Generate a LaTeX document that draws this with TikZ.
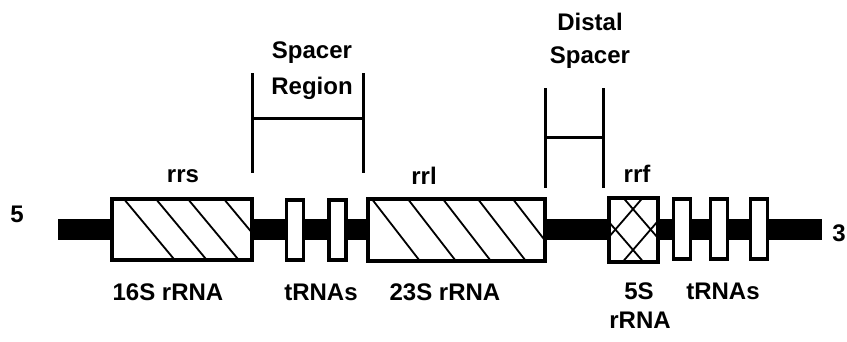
\documentclass[tikz,border=0pt]{standalone}
\usepackage{fontspec}
\setmainfont{Liberation Sans}
\begin{document}
\begin{tikzpicture}[x=1pt,y=-1pt,
  gene/.style={draw=black,line width=4pt,fill=white,inner sep=0pt,outer sep=0pt,rectangle},
  trna/.style={gene,line width=3.5pt,minimum width=17pt,minimum height=60pt},
  lbl/.style={font=\bfseries\fontsize{24}{26}\selectfont,inner sep=0pt,align=center},
  hatch/.style={line width=1.8pt},
  brk/.style={line width=3pt}]
\useasboundingbox (0,0) rectangle (847,341);
% backbone
\coordinate (L) at (58,229);
\coordinate (R) at (822,229);
\draw[line width=21pt] (L) -- (R);
% genes
\node[gene,minimum width=140pt,minimum height=61pt] (b16) at (181.5,229) {};
\node[trna] (t1) at (295,230) {};
\node[trna] (t2) at (337.5,230) {};
\node[gene,minimum width=177pt,minimum height=62pt] (b23) at (456,229.5) {};
\node[gene,minimum width=49pt,minimum height=64pt] (b5) at (633,229.5) {};
\node[trna] (t3) at (682,229) {};
\node[trna] (t4) at (719,229) {};
\node[trna] (t5) at (759,229) {};
% hatching 16S
\begin{scope}
\clip (b16.south west) rectangle (b16.north east);
\foreach \o in {12,44,76,112}
  \draw[hatch] ([xshift=\o pt]b16.north west) -- ++(50,60);
\end{scope}
% hatching 23S
\begin{scope}
\clip (b23.south west) rectangle (b23.north east);
\foreach \o in {4,40,75,110,145}
  \draw[hatch] ([xshift=\o pt]b23.north west) -- ++(48,62);
\end{scope}
% crosshatch 5S
\begin{scope}
\clip (b5.south west) rectangle (b5.north east);
\draw[hatch] (602,214) -- (646,265);
\draw[hatch] (620,194) -- (664,245);
\draw[hatch] (646,194) -- (602,245);
\draw[hatch] (664,214) -- (620,265);
\end{scope}
% re-draw borders on top
\draw[line width=4pt] (b16.south west) rectangle (b16.north east);
\draw[line width=4pt] (b23.south west) rectangle (b23.north east);
\draw[line width=4pt] (b5.south west) rectangle (b5.north east);
% end labels
\node[lbl] (p5) at (17,214) {5};
\node[lbl] (p3) at (839,233) {3};
% gene names above
\node[lbl] (rrs) at (183,176) {rrs};
\node[lbl] (rrl) at (424,176) {rrl};
\node[lbl] (rrf) at (637,174) {rrf};
% labels below
\node[lbl] (l16) at (168,292) {16S rRNA};
\node[lbl] (lt1) at (321,292) {tRNAs};
\node[lbl] (l23) at (445,292) {23S rRNA};
\node[lbl] (l5) at (639,291) {5S};
\node[lbl] (l5b) at (640,320) {rRNA};
\node[lbl] (lt2) at (723,291) {tRNAs};
% spacer region bracket
\coordinate (s1a) at (252,73);
\coordinate (s1b) at (252,173);
\coordinate (s2a) at (363,73);
\coordinate (s2b) at (363,173);
\draw[brk] (s1a) -- (s1b);
\draw[brk] (s2a) -- (s2b);
\draw[brk] (s1a |- 0,118) -- (s2a |- 0,118);
\node[lbl] (sp1) at (312,53) {Spacer};
\node[lbl] (sp2) at (312,88) {Region};
% distal spacer bracket
\coordinate (d1a) at (545,88);
\coordinate (d1b) at (545,188);
\coordinate (d2a) at (603,88);
\coordinate (d2b) at (603,188);
\draw[brk] (d1a) -- (d1b);
\draw[brk] (d2a) -- (d2b);
\draw[brk] (d1a |- 0,137) -- (d2a |- 0,137);
\node[lbl] (ds1) at (590,22) {Distal};
\node[lbl] (ds2) at (590,58) {Spacer};
\end{tikzpicture}
\end{document}
